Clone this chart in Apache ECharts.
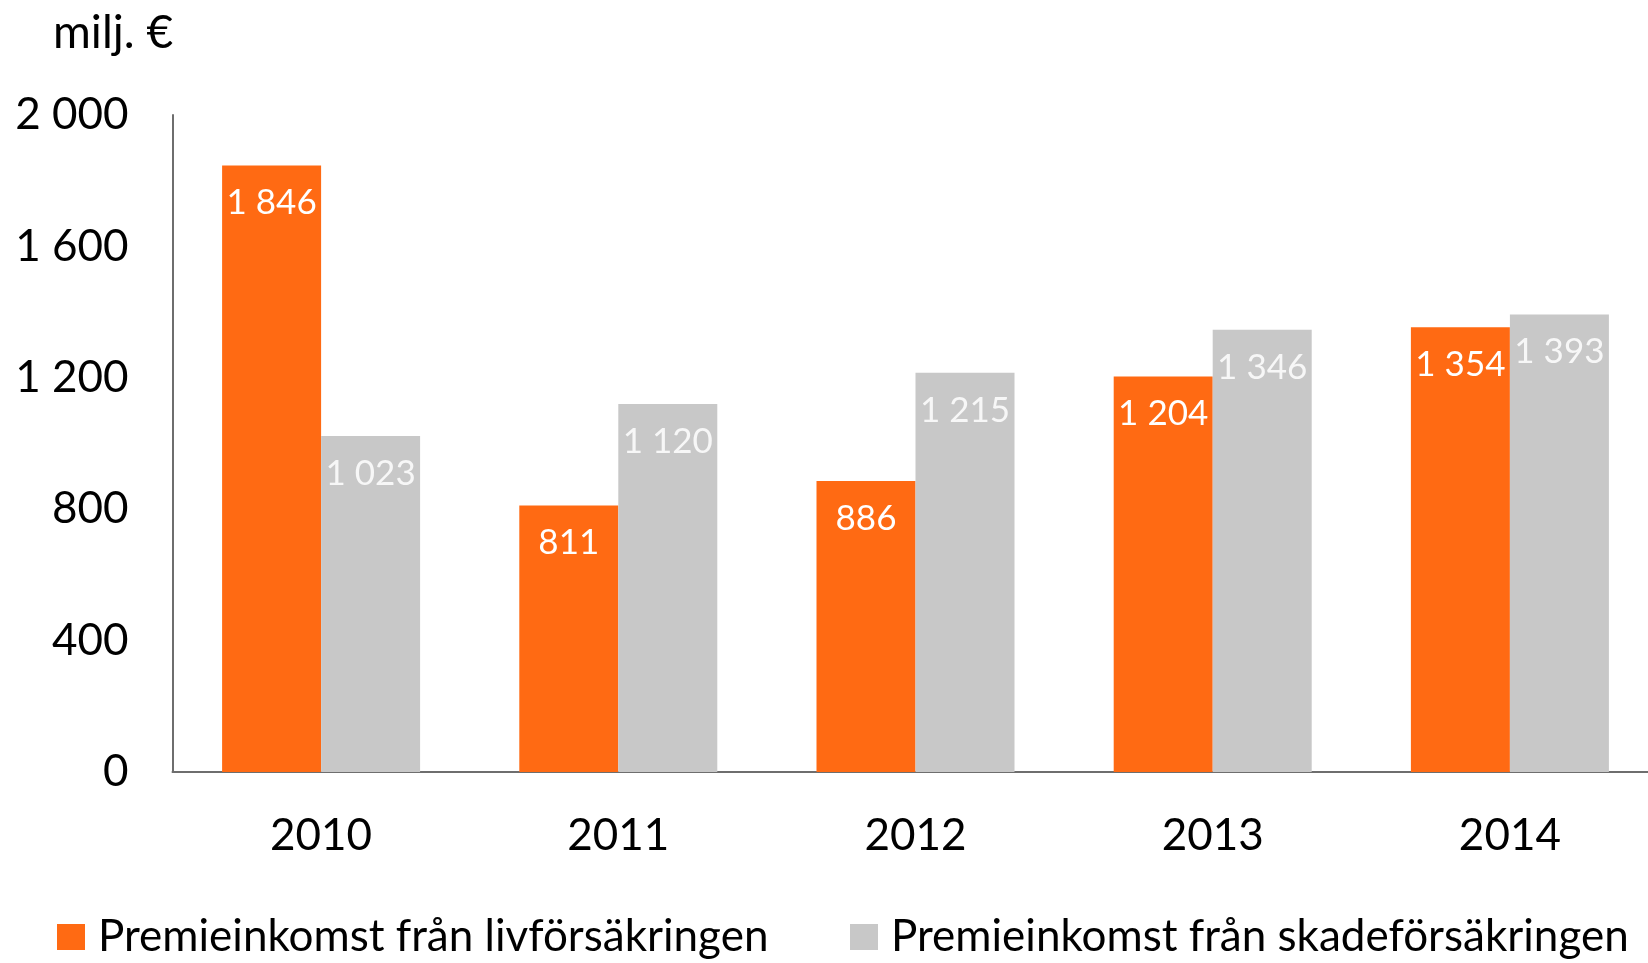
<!DOCTYPE html>
<html>
<head>
<meta charset="utf-8">
<script src="https://cdn.jsdelivr.net/npm/echarts@6/dist/echarts.min.js"></script>
<style>
  html, body { margin: 0; padding: 0; background: #fff; }
  #chart { width: 1648px; height: 963px; }
</style>
</head>
<body>
<div id="chart"></div>
<script>
// Premium income, million euro
const years = ['2010', '2011', '2012', '2013', '2014'];
const lifePremiums = [1846, 811, 886, 1204, 1354];
const nonLifePremiums = [1023, 1120, 1215, 1346, 1393];
const seriesNames = ['Premieinkomst från livförsäkringen', 'Premieinkomst från skadeförsäkringen'];
const unitLabel = 'milj. €';

const FONT = 'Lato, "Noto Sans", sans-serif';

// 1 846 style: space as thousands separator
function fmt(v) {
  return String(Math.round(v)).replace(/\B(?=(\d{3})+(?!\d))/g, ' ');
}

const chart = echarts.init(document.getElementById('chart'), null, { renderer: 'canvas' });

const labelCommon = {
  show: true,
  position: 'insideTop',
  distance: 20,
  fontFamily: FONT,
  fontSize: 35,
  formatter: p => fmt(p.value)
};

// one legend block per series so each swatch sits at its own spot
const legendBase = {
  top: 915,
  padding: 0,
  icon: 'rect',
  itemWidth: 28,
  itemHeight: 26,
  textStyle: { fontFamily: FONT, fontSize: 44, color: '#000', padding: [0, 0, 0, 8] }
};

chart.setOption({
  animation: false,
  backgroundColor: '#ffffff',
  textStyle: { fontFamily: FONT },
  title: {
    text: unitLabel,
    left: 48,
    top: 5,
    textStyle: { fontFamily: FONT, fontSize: 46, fontWeight: 'normal', color: '#000' }
  },
  grid: {
    left: 172.5,
    top: 115,
    width: 1486,
    height: 657,
    containLabel: false,
    outerBoundsMode: 'none'
  },
  legend: [
    Object.assign({ left: 57, data: [seriesNames[0]] }, legendBase),
    Object.assign({ left: 850, data: [seriesNames[1]] }, legendBase)
  ],
  xAxis: {
    type: 'category',
    data: years,
    axisLine: { show: true, lineStyle: { color: '#6e6e6e', width: 2 } },
    axisTick: { show: false },
    axisLabel: { fontFamily: FONT, fontSize: 44, color: '#000', margin: 42 }
  },
  yAxis: {
    type: 'value',
    min: 0,
    max: 2000,
    interval: 400,
    axisLine: { show: true, lineStyle: { color: '#6e6e6e', width: 2 } },
    axisTick: { show: false },
    splitLine: { show: false },
    axisLabel: {
      fontFamily: FONT,
      fontSize: 44,
      color: '#000',
      margin: 44,
      formatter: v => fmt(v)
    }
  },
  series: [
    {
      name: seriesNames[0],
      type: 'bar',
      data: lifePremiums,
      barWidth: 99,
      barGap: '0%',
      itemStyle: { color: '#ff6a13' },
      label: Object.assign({ color: '#ffffff' }, labelCommon)
    },
    {
      name: seriesNames[1],
      type: 'bar',
      data: nonLifePremiums,
      barWidth: 99,
      barGap: '0%',
      itemStyle: { color: '#c8c8c8' },
      label: Object.assign({ color: '#f7f7f7' }, labelCommon)
    }
  ]
});
</script>
</body>
</html>
